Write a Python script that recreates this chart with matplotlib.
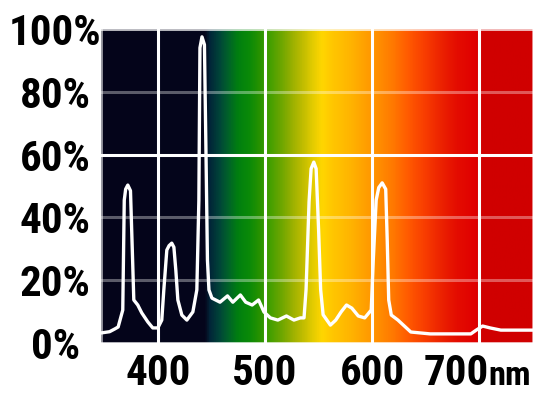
import numpy as np
import matplotlib
matplotlib.use('Agg')
import matplotlib.pyplot as plt
from matplotlib.colors import LinearSegmentedColormap

# spectrum: wavelength [nm], relative intensity [%]
wl = [347, 355, 360, 363, 367.3, 368.7, 370, 372, 374.5, 376.2, 377.6, 381.3, 385, 390.7, 395.3,
      400, 403.7, 405.6, 408.4, 410.5, 413, 415, 416.8, 418.7, 422.4, 427.1, 432.7,
      436.4, 438.3, 439.3, 441.2, 443.5, 444.9, 446.3, 447.7, 450.5,
      458, 465, 470, 477, 482, 488, 494, 499, 505, 512, 520, 527, 533,
      536.4, 538.3, 541.1, 543, 545.5, 547.7, 550, 551.9, 554.2, 561, 566, 571, 576, 581, 587, 593,
      599.1, 601, 603.7, 606.1, 609.3, 612.6, 614, 615.4, 617.8, 624, 630, 636, 654, 673, 692, 697, 703,
      710, 720, 734, 750]
inten = [3.2, 3.6, 4.5, 5.1, 10.5, 45.5, 49, 50.3, 48.5, 29.6, 13.7, 12.1, 9.6, 6.7, 4.8,
         4.8, 7.3, 16.9, 29.6, 31, 31.8, 30.5, 23.2, 13.7, 8.9, 7.3, 9.9,
         16.9, 45.5, 94, 97.5, 95, 61.5, 26.4, 16.9, 14.3,
         13, 15, 13, 15.3, 13, 12.1, 13.7, 9.9, 8, 7.3, 8.6, 7.3, 8,
         8, 17, 45, 55.5, 57.6, 55.5, 36, 17, 9, 5.7, 7.3, 9.9, 12.1, 11.1, 8.6, 8,
         10.5, 26.4, 45.5, 49.5, 51, 49, 32.8, 13.7, 8.9, 7.3, 5.4, 3.5, 2.9, 2.9, 2.9, 4.1, 5.4,
         4.8, 4.1, 4.1, 4.1]

# background colour stops (nm, colour)
bg_nm = [347, 444, 448, 458, 466, 474, 485, 495, 505, 515, 525, 535, 545, 553,
         565, 580, 595, 605, 620, 635, 650, 665, 680, 697, 701, 750]
bg_col = ['#04041a', '#05061c', '#022438', '#004838', '#006428', '#007e10',
          '#0a8a08', '#289200', '#46a000', '#6ca600', '#98b000', '#c0bc00',
          '#e4cc00', '#ffd600', '#ffc400', '#ffb400', '#ff9e00', '#ff9000',
          '#ff7800', '#ff5800', '#f83c00', '#ec2200', '#e40c00', '#e00000',
          '#d00000', '#d00000']

xticks = [400, 500, 600, 700]
xlabels = ['400', '500', '600', '']
yticks = [0, 20, 40, 60, 80, 100]
ylabels = ['0%', '20%', '40%', '60%', '80%', '100%']

plt.rcParams['font.family'] = ['Roboto Condensed', 'DejaVu Sans']
fs = 31

xmin, xmax = 347, 750
fig = plt.figure(figsize=(5.34, 3.97), dpi=100)
ax = fig.add_axes([101/534, 54/397, 432/534, 314/397])

pos = [(v - xmin)/(xmax - xmin) for v in bg_nm]
cmap = LinearSegmentedColormap.from_list('spec', list(zip(pos, bg_col)))
grad = np.linspace(0, 1, 1000)[None, :]
ax.imshow(grad, extent=[xmin, xmax, 0, 100], aspect='auto', cmap=cmap, zorder=0)

ax.plot(wl, inten, color='white', lw=2.4, zorder=3)

ax.set_xlim(xmin, xmax)
ax.set_ylim(0, 100)
ax.set_xticks(xticks, xlabels)
ax.set_yticks(yticks, ylabels)
ax.grid(axis='x', color='white', lw=2.2, alpha=1, zorder=2)
ax.grid(axis='y', color='white', lw=2.2, alpha=0.35, zorder=2)
ax.yaxis.get_gridlines()[3].set_alpha(1)
ax.set_axisbelow(False)
ax.tick_params(length=0, labelsize=fs, labelcolor='black')
ax.tick_params(axis='y', pad=33)
ax.tick_params(axis='x', pad=7)
for t in ax.get_yticklabels() + ax.get_xticklabels():
    t.set_fontweight('bold')
for t in ax.get_yticklabels():
    t.set_ha('center')
    t.set_va('center_baseline')

ax.annotate('700', xy=(700, 0), xycoords=('data', 'axes fraction'),
            xytext=(-16.5, -7), textcoords='offset points',
            ha='center', va='top', fontsize=fs, fontweight='bold')
ax.annotate('nm', xy=(700, 0), xycoords=('data', 'axes fraction'),
            xytext=(6.5, -12.5), textcoords='offset points',
            ha='left', va='top', fontsize=fs*0.8, fontweight='bold')

for s in ax.spines.values():
    s.set_color((1, 1, 1, 0.6))
    s.set_linewidth(2)

fig.savefig('out.png', dpi=100)
